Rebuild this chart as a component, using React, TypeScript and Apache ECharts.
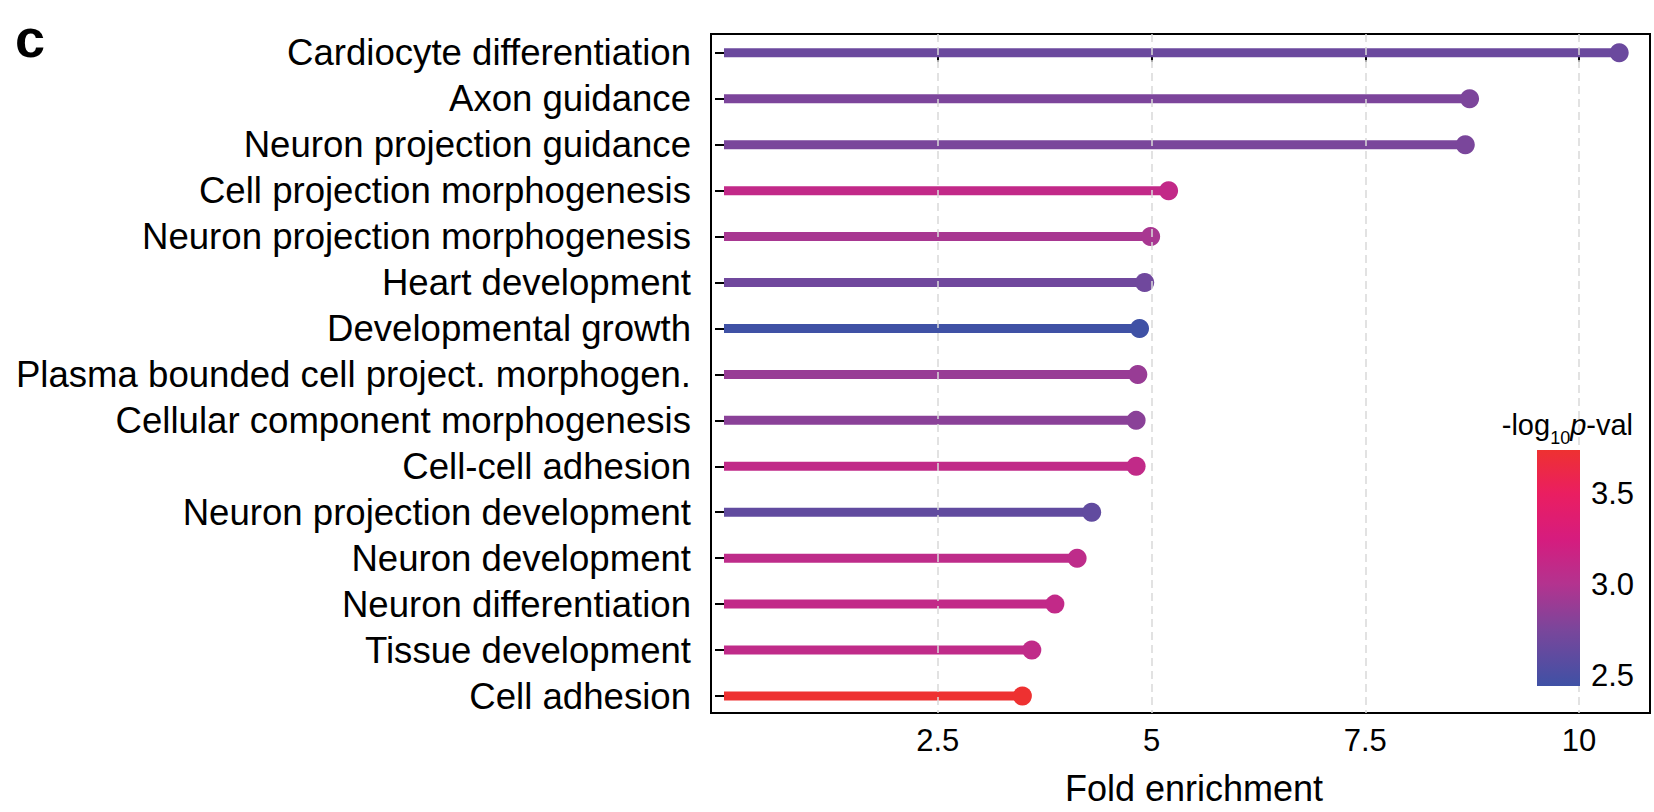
import React, { useEffect, useRef } from "react";
import * as echarts from "echarts";

const categories = [
  "Cardiocyte differentiation",
  "Axon guidance",
  "Neuron projection guidance",
  "Cell projection morphogenesis",
  "Neuron projection morphogenesis",
  "Heart development",
  "Developmental growth",
  "Plasma bounded cell project. morphogen.",
  "Cellular component morphogenesis",
  "Cell-cell adhesion",
  "Neuron projection development",
  "Neuron development",
  "Neuron differentiation",
  "Tissue development",
  "Cell adhesion",
];
const foldEnrichment = [10.47, 8.72, 8.67, 5.2, 4.99, 4.92, 4.86, 4.84, 4.82, 4.82, 4.3, 4.13, 3.87, 3.6, 3.49];
const negLog10P = [2.67, 2.76, 2.75, 3.11, 2.95, 2.7, 2.44, 2.88, 2.82, 3.1, 2.62, 3.08, 3.11, 3.09, 3.74];
const xTicks = [2.5, 5, 7.5, 10];
const xTickLabels = ["2.5", "5", "7.5", "10"];
const colorbarTicks = [2.5, 3.0, 3.5];
const colorbarTickLabels = ["2.5", "3.0", "3.5"];
const colorStopValues = [2.44, 2.75, 3.0, 3.25, 3.5, 3.74];
const colorStopColors = ["#3F51A5", "#7A469B", "#B3338F", "#D61C7E", "#EA1E61", "#EE3131"];

const FONT = "'Liberation Sans', Arial, Helvetica, sans-serif";

function hexToRgb(h: string) {
  const n = parseInt(h.slice(1), 16);
  return [(n >> 16) & 255, (n >> 8) & 255, n & 255];
}
function colorFor(v: number) {
  const vs = colorStopValues;
  if (v <= vs[0]) return colorStopColors[0];
  if (v >= vs[vs.length - 1]) return colorStopColors[vs.length - 1];
  for (let i = 0; i < vs.length - 1; i++) {
    if (v >= vs[i] && v <= vs[i + 1]) {
      const t = (v - vs[i]) / (vs[i + 1] - vs[i]);
      const a = hexToRgb(colorStopColors[i]);
      const b = hexToRgb(colorStopColors[i + 1]);
      const c = a.map((x, k) => Math.round(x + (b[k] - x) * t));
      return `rgb(${c[0]},${c[1]},${c[2]})`;
    }
  }
  return colorStopColors[0];
}

export default function App() {
  const ref = useRef<HTMLDivElement>(null);
  useEffect(() => {
    if (!ref.current) return;
    const chart = echarts.init(ref.current, undefined, { renderer: "svg" });
    const rowIdx = categories.map((_, i) => i);
    const data = categories.map((_, i) => [foldEnrichment[i], i, negLog10P[i]]);

    // colorbar geometry (legend)
    const cbX = 1537, cbY = 450, cbW = 43, cbH = 236;
    const cMin = colorStopValues[0];
    const cMax = colorStopValues[colorStopValues.length - 1];
    const cbYFor = (v: number) => cbY + cbH - ((v - cMin) / (cMax - cMin)) * cbH;
    const gradStops = colorStopValues.map((v, i) => ({
      offset: (v - cMin) / (cMax - cMin),
      color: colorStopColors[i],
    }));

    const option: any = {
      animation: false,
      grid: {
        left: 711,
        top: 34,
        width: 939,
        height: 679,
        show: true,
        borderColor: "#000",
        borderWidth: 2,
        backgroundColor: "transparent",
      },
      xAxis: {
        type: "value",
        min: -0.152,
        max: 10.83,
        axisLine: { show: false },
        splitLine: { show: false },
        axisTick: { show: true, customValues: xTicks, length: 9, lineStyle: { color: "#000", width: 2 } },
        axisLabel: {
          customValues: xTicks,
          formatter: (v: number) => xTickLabels[xTicks.indexOf(v)] ?? String(v),
          fontSize: 31,
          color: "#000",
          margin: 12,
          fontFamily: FONT,
        },
      },
      yAxis: {
        type: "value",
        inverse: true,
        min: -0.41,
        max: 14.37,
        axisLine: { show: false },
        splitLine: { show: false },
        axisTick: { show: true, customValues: rowIdx, length: 9, lineStyle: { color: "#000", width: 2 } },
        axisLabel: {
          customValues: rowIdx,
          formatter: (v: number) => categories[Math.round(v)] ?? "",
          fontSize: 36.6,
          color: "#000",
          margin: 20,
          fontFamily: FONT,
        },
      },
      series: [
        {
          type: "line",
          data: [],
          z: 1,
          markLine: {
            silent: true,
            symbol: "none",
            label: { show: false },
            lineStyle: { type: [8, 5], color: "#D9D9D9", width: 1.5 },
            data: xTicks.map((v) => ({ xAxis: v })),
          },
        },
        {
          type: "custom",
          z: 3,
          data,
          encode: { x: 0, y: 1 },
          renderItem: (params: any, api: any) => {
            const x = api.value(0);
            const y = api.value(1);
            const p = api.value(2);
            const s = api.coord([0, y]);
            const e = api.coord([x, y]);
            const color = colorFor(p);
            return {
              type: "group",
              children: [
                {
                  type: "line",
                  shape: { x1: s[0], y1: s[1], x2: e[0], y2: e[1] },
                  style: { stroke: color, lineWidth: 9 },
                },
                {
                  type: "circle",
                  shape: { cx: e[0], cy: e[1], r: 9.5 },
                  style: { fill: color },
                },
              ],
            };
          },
        },
      ],
      graphic: [
        {
          type: "text",
          left: 15,
          top: 11,
          style: { text: "c", fontSize: 54, fontWeight: "bold", fontFamily: FONT, fill: "#000" },
        },
        {
          type: "text",
          x: 1194,
          y: 788,
          style: {
            text: "Fold enrichment",
            fontSize: 36,
            fontFamily: FONT,
            fill: "#000",
            align: "center",
            verticalAlign: "middle",
          },
        },
        {
          type: "rect",
          shape: { x: cbX, y: cbY, width: cbW, height: cbH },
          style: {
            fill: new echarts.graphic.LinearGradient(0, 1, 0, 0, gradStops),
          },
          z: 10,
        },
        ...colorbarTicks.map((v, i) => ({
          type: "text",
          x: cbX + cbW + 11,
          y: cbYFor(v),
          z: 10,
          style: {
            text: colorbarTickLabels[i],
            fontSize: 31,
            fontFamily: FONT,
            fill: "#000",
            align: "left",
            verticalAlign: "middle",
          },
        })),
        {
          type: "text",
          x: 1633,
          y: 422,
          z: 10,
          style: {
            text: "{a|-log}{b|10}{c|p}{a|-val}",
            align: "right",
            verticalAlign: "middle",
            rich: {
              a: { fontSize: 29, fontFamily: FONT, fill: "#000", lineHeight: 34, verticalAlign: "bottom" },
              b: { fontSize: 18, fontFamily: FONT, fill: "#000", lineHeight: 34, verticalAlign: "bottom", padding: [0, 0, -8, 0] },
              c: { fontSize: 29, fontFamily: FONT, fontStyle: "italic", fill: "#000", lineHeight: 34, verticalAlign: "bottom" },
            },
          },
        },
      ],
    };
    chart.setOption(option);
    return () => chart.dispose();
  }, []);
  return (
    <div
      ref={ref}
      style={{ position: "absolute", left: 0, top: 0, width: 1654, height: 812, background: "#fff" }}
    />
  );
}
